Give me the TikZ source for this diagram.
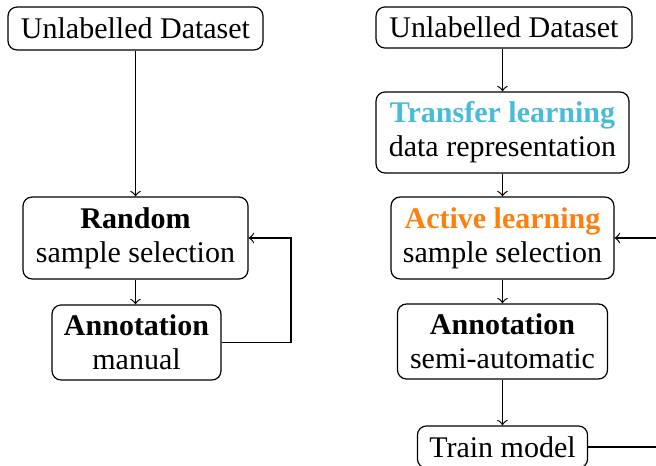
\documentclass[tikz,border=0pt]{standalone}
\usepackage{fontspec}
\setmainfont{Liberation Serif}
\definecolor{tlblue}{HTML}{48BBD9}
\definecolor{alorange}{HTML}{FF7F0E}
\tikzset{
  box/.style={draw, rounded corners=3pt, align=center, inner sep=1pt,
    font=\fontsize{10}{11.4}\selectfont, line width=0.4pt},
  conn/.style={->, line width=0.4pt},
}
\begin{document}
\begin{tikzpicture}[x=0.33333pt,y=-0.33333pt]
\useasboundingbox (0,0) rectangle (656,466);
\clip (0,0) rectangle (656,466);
% left column
\node[box, minimum width=85pt, minimum height=14.3pt] (lunl) at (135.5,28.5) {Unlabelled Dataset};
\node[box, minimum width=75pt, minimum height=27.3pt] (rand) at (135.5,238) {\textbf{Random}\\sample selection};
\node[box, minimum width=56.3pt, minimum height=25pt] (annm) at (136.5,342.5) {\textbf{Annotation}\\manual};
\coordinate (lloop) at (291,0);
\draw[conn] (lunl) -- (lunl |- rand.north);
\draw[conn] (rand) -- (rand |- annm.north);
\draw[conn] (annm.east) -- (annm.east -| lloop) |- (rand.east);
% right column
\node[box, minimum width=85.3pt, minimum height=13.7pt] (runl) at (504,27.5) {Unlabelled Dataset};
\node[box, minimum width=84.3pt, minimum height=27pt] (tl) at (502.5,132.5) {\textbf{\textcolor{tlblue}{Transfer learning}}\\data representation};
\node[box, minimum width=74.3pt, minimum height=27.3pt] (al) at (502.5,238) {\textbf{\textcolor{alorange}{Active learning}}\\sample selection};
\node[box, minimum width=70pt, minimum height=25pt] (anns) at (502.5,341.5) {\textbf{Annotation}\\semi-automatic};
\node[box, minimum width=56.7pt, minimum height=14pt] (train) at (502.5,447) {Train model};
\coordinate (rloop) at (700,0);
\draw[conn] (runl.south -| tl) -- (tl.north);
\draw[conn] (tl) -- (tl |- al.north);
\draw[conn] (al) -- (al |- anns.north);
\draw[conn] (anns) -- (anns |- train.north);
\draw[conn] (train.east) -- (train.east -| rloop) |- (al.east);
\end{tikzpicture}
\end{document}
